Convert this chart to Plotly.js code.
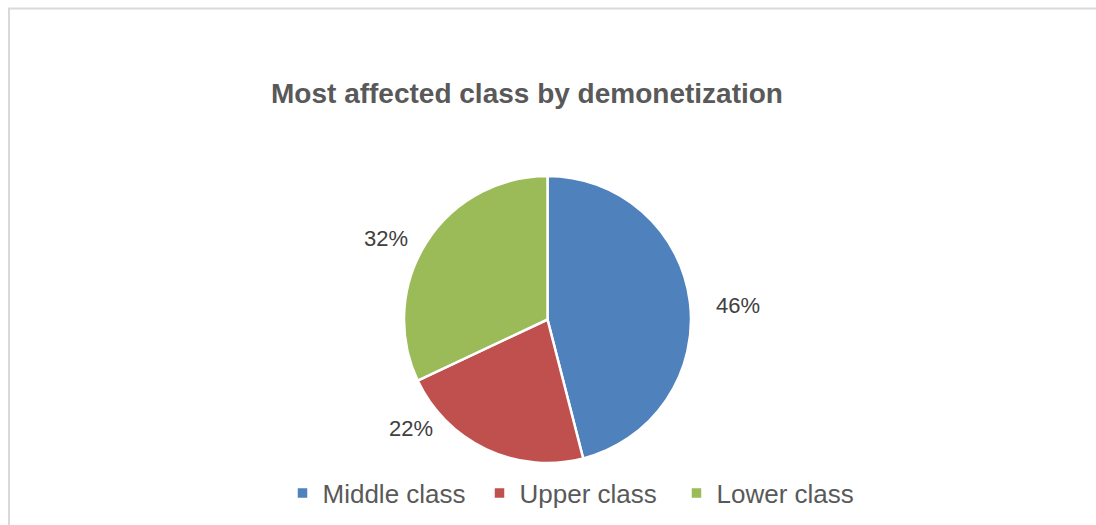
<!DOCTYPE html>
<html>
<head>
<meta charset="utf-8">
<script src="https://cdn.plot.ly/plotly-3.0.1.min.js"></script>
<style>html,body{margin:0;padding:0;background:#fff;}#chart{width:1096px;height:525px;}</style>
</head>
<body>
<div id="chart"></div>
<script>
var categories = ["Middle class", "Upper class", "Lower class"];
var values = [46, 22, 32];
var colors = ["#4f81bd", "#c0504d", "#9bbb59"];

var total = values.reduce(function(a, b) { return a + b; }, 0);
var pctText = values.map(function(v) { return Math.round(v / total * 100) + "%"; });

// label anchor positions (paper pixels) for the outside labels
var labelPos = [[738, 305], [411, 428], [386, 238]];

var W = 1096, H = 525;
var fontFam = "'Liberation Sans', Arial, sans-serif";

var trace = {
  type: "pie",
  labels: categories,
  values: values,
  sort: false,
  direction: "clockwise",
  rotation: 0,
  textinfo: "none",
  hoverinfo: "label+percent",
  marker: { colors: colors, line: { color: "#ffffff", width: 2.5 } },
  domain: { x: [404 / W, 691 / W], y: [1 - 463 / H, 1 - 176 / H] }
};

var annotations = pctText.map(function(t, i) {
  return {
    text: t,
    xref: "paper", yref: "paper",
    x: labelPos[i][0] / W, y: 1 - labelPos[i][1] / H,
    xanchor: "center", yanchor: "middle",
    showarrow: false,
    font: { family: fontFam, size: 22, color: "#404040" }
  };
});

var layout = {
  width: W, height: H,
  margin: { l: 0, r: 0, t: 0, b: 0 },
  paper_bgcolor: "#ffffff",
  title: {
    text: "<b>Most affected class by demonetization</b>",
    x: 527 / W, xanchor: "center",
    y: 1 - 93 / H, yanchor: "middle",
    xref: "paper", yref: "paper",
    font: { family: fontFam, size: 28, color: "#595959" }
  },
  showlegend: true,
  legend: {
    orientation: "h",
    x: 578 / W, xanchor: "center",
    y: 1 - 493 / H, yanchor: "middle",
    entrywidth: 152, entrywidthmode: "pixels",
    font: { family: fontFam, size: 26, color: "#595959" },
    bgcolor: "rgba(0,0,0,0)"
  },
  annotations: annotations,
  shapes: [{
    type: "rect", xref: "paper", yref: "paper",
    x0: 9 / W, x1: 1.05, y0: -0.05, y1: 1 - 8.5 / H,
    line: { color: "#d9d9d9", width: 2 },
    fillcolor: "rgba(0,0,0,0)",
    layer: "below"
  }]
};

Plotly.newPlot("chart", [trace], layout, { displayModeBar: false, staticPlot: true });
</script>
</body>
</html>
